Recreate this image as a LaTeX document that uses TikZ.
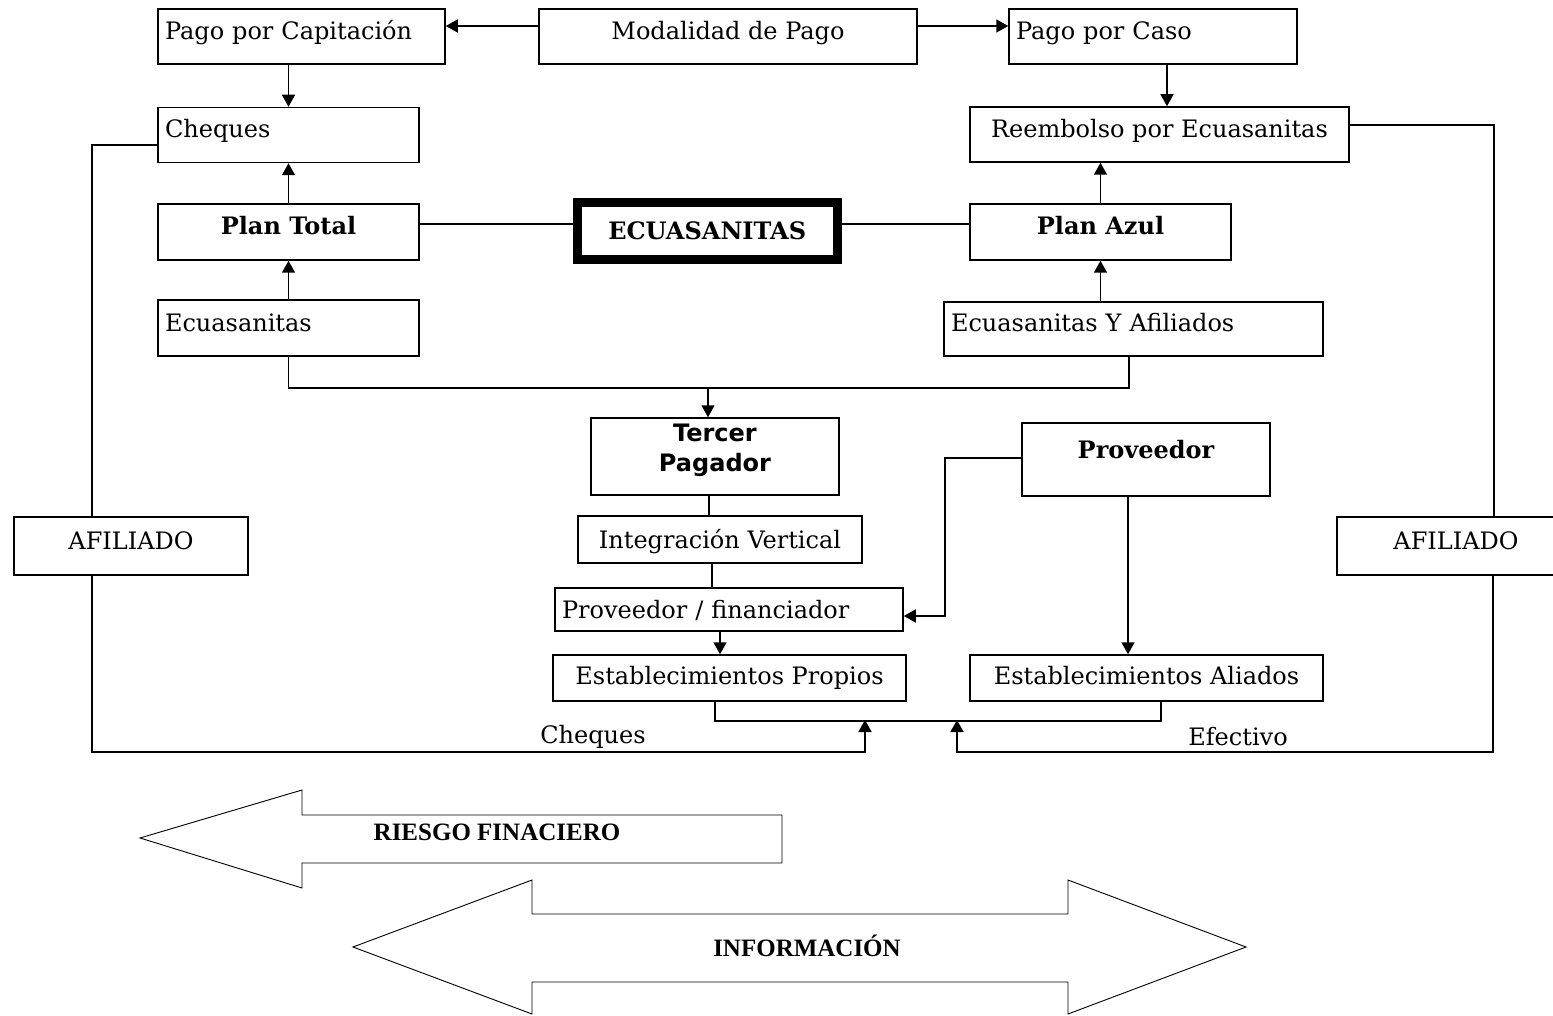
\documentclass[tikz,border=0pt]{standalone}
\usepackage{fontspec}
\setmainfont{DejaVu Serif}
\newfontfamily\titlefont{Liberation Serif}
\newfontfamily\sansbold{DejaVu Sans}
\usetikzlibrary{arrows.meta}

\begin{document}
\begin{tikzpicture}[x=1pt,y=1pt,
  frame/.style={draw, line width=1.5pt, inner sep=7pt, minimum height=55pt, font=\fontsize{24}{28}\selectfont},
  box/.style={frame, text height=17pt, text depth=11pt},
  lbox/.style={box, align=left},
  bbox/.style={box, font=\fontsize{24}{28}\selectfont\bfseries},
  link/.style={line width=1.5pt},
  arr/.style={line width=1.5pt, -{Triangle[length=12pt,width=13pt]}},
  bigarrow/.style={draw, line width=0.9pt},
  bigtext/.style={font=\titlefont\fontsize{25}{30}\selectfont\bfseries}]
\useasboundingbox (0,0) rectangle (1553,-1016);
\clip (0,0) rectangle (1553,-1016);
\fill[white] (0,0) rectangle (1553,-1016);

% top row
\node[lbox] (capit) at (301.5,-36.5) [text width=273pt] {Pago por Capitación};
\node[box] (modal) at (728,-36.5) [minimum width=378pt] {Modalidad de Pago};
\node[lbox] (caso) at (1153,-36.5) [text width=274pt] {Pago por Caso};
	\node[lbox] (chq) at (288.5,-135) [text width=247pt] {Cheques};
	\node[box] (reemb) at (1159.5,-134.5) [minimum width=379pt] {Reembolso por Ecuasanitas};
% plans
\node[bbox] (ptotal) at (288.5,-232) [minimum width=261pt, minimum height=56pt] {Plan Total};
\node[bbox] (ecua) at (707.25,-231.25) [minimum width=260.5pt, minimum height=57.5pt, line width=9pt, text depth=0pt] {ECUASANITAS};
\node[bbox] (pazul) at (1100.5,-232) [minimum width=261pt, minimum height=56pt] {Plan Azul};
	\node[lbox] (ecua2) at (288.5,-328) [text width=247pt, minimum height=56pt] {Ecuasanitas};
	\node[lbox] (ecuaf) at (1133.5,-329) [text width=365pt, minimum height=54pt] {Ecuasanitas Y Afiliados};
% payer and providers
\node[frame] (tercer) at (715,-456.5) [minimum width=248pt, minimum height=77pt, align=center, text height=46pt, text depth=15.5pt, font=\sansbold\fontsize{24}{30}\selectfont\bfseries] {Tercer\\Pagador};
\node[box] (integ) at (720,-539.5) [minimum width=284pt, minimum height=47pt, text depth=0pt] {Integración Vertical};
\node[lbox] (provfin) at (729,-609.5) [text width=334pt, minimum height=43pt, text depth=0pt] {Proveedor / financiador};
\node[box] (estprop) at (729.5,-678) [minimum width=353pt, minimum height=46pt, text depth=5pt] {Establecimientos Propios};
\node[bbox] (prov) at (1146,-459.5) [minimum width=248pt, minimum height=73pt, text depth=18.5pt] {Proveedor};
\node[box] (estal) at (1146.5,-678) [minimum width=353pt, minimum height=46pt, text depth=5pt] {Establecimientos Aliados};
	\node[box] (afil1) at (131,-546) [minimum width=234pt, minimum height=58pt] {AFILIADO};
	\node[box] (afil2) at (1456,-546) [minimum width=238pt, minimum height=58pt] {AFILIADO};
\node[anchor=base, font=\fontsize{24}{28}\selectfont] (lchq) at (593,-743) {Cheques};
\node[anchor=base, font=\fontsize{24}{28}\selectfont] (lefe) at (1238,-745) {Efectivo};

\coordinate (join) at (708,-388);
\coordinate (chqin) at (865,-720);
\coordinate (efin) at (957,-720);

\draw[arr] ([yshift=10.5pt]modal.west) -- ([yshift=10.5pt]capit.east);
\draw[arr] ([yshift=10.5pt]modal.east) -- ([yshift=10.5pt]caso.west);
\draw[arr] (capit.south -| chq.north) -- (chq.north);
\draw[arr] ([xshift=14pt]caso.south) -- ([xshift=14pt]caso.south |- reemb.north);
\draw[arr] (ptotal.north) -- (chq.south);
\draw[arr] (ecua2.north) -- (ptotal.south);
\draw[arr] (pazul.north) -- (pazul.north |- reemb.south);
\draw[arr] (pazul.south |- ecuaf.north) -- (pazul.south);
\draw[link] ([yshift=8pt]ptotal.east) -- ([yshift=8pt]ptotal.east -| ecua.west);
\draw[link] ([yshift=8pt]pazul.west) -- ([yshift=8pt]pazul.west -| ecua.east);
\draw[link] (ecua2.south) |- (join) -| ([xshift=-4.5pt]ecuaf.south);
\draw[arr] (join) -- (join |- tercer.north);
\draw[link] ([xshift=-6pt]tercer.south) -- ([xshift=-6pt]tercer.south |- integ.north);
\draw[link] ([xshift=-8pt]integ.south) -- ([xshift=-8pt]integ.south |- provfin.north);
\draw[arr] ([xshift=-9pt]provfin.south) -- ([xshift=-9pt]provfin.south |- estprop.north);
\draw[arr] ([yshift=1.5pt]prov.west) -| ([xshift=41pt,yshift=-6.5pt]provfin.east) -- ([yshift=-6.5pt]provfin.east);
\draw[arr] ([xshift=-18pt]prov.south) -- ([xshift=-18pt]prov.south |- estal.north);
\draw[link] ([xshift=-14.5pt]estprop.south) -- ++(0,-19) -| ([xshift=14.5pt]estal.south);
% money flows from the affiliates
\draw[link] ([yshift=-10pt]chq.west) -| ([xshift=-39pt]afil1.north);
\draw[arr] ([xshift=-39pt]afil1.south) |- ([yshift=-32pt]chqin) -- (chqin);
\draw[link] ([yshift=9.5pt]reemb.east) -| ([xshift=38pt]afil2.north);
\draw[arr] ([xshift=37pt]afil2.south) |- ([yshift=-32pt]efin) -- (efin);

% big arrows
\draw[bigarrow] (140,-838) -- (302,-790) -- (302,-815) -- (782,-815) -- (782,-863) -- (302,-863) -- (302,-888) -- cycle;
\node[bigtext] (riesgo) at (497,-832) {RIESGO FINACIERO};
\draw[bigarrow] (353,-947) -- (532,-880) -- (532,-914) -- (1068,-914) -- (1068,-880) -- (1246,-947) -- (1068,-1014) -- (1068,-982) -- (532,-982) -- (532,-1014) -- cycle;
\node[bigtext] (info) at (807,-946) {INFORMACIÓN};
\end{tikzpicture}
\end{document}
